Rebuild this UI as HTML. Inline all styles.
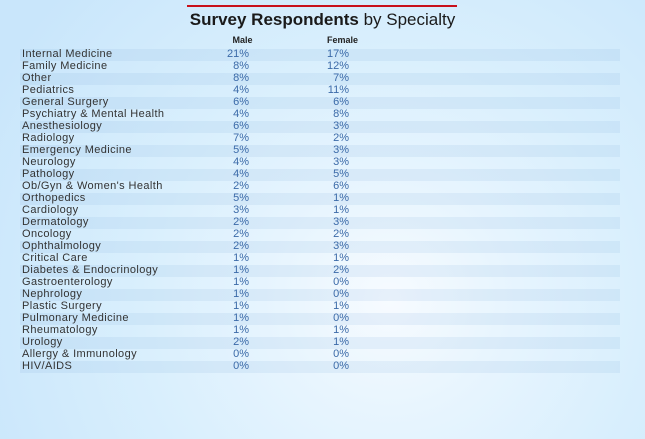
<!DOCTYPE html>
<html><head><meta charset="utf-8">
<style>
html,body{margin:0;padding:0;}
body{width:645px;height:439px;overflow:hidden;position:relative;
background:radial-gradient(circle at 390px 300px,#f7fbff 0px,#e8f5fe 110px,#d9effd 250px,#c9e6fb 450px);
font-family:"Liberation Sans",Arial,sans-serif;}
.red{position:absolute;left:187px;top:5px;width:270px;height:2px;background:#c8101a;}
.title{position:absolute;left:0;width:645px;top:10px;text-align:center;font-size:17px;line-height:20px;color:#1a1a1a;}
.title b{font-weight:bold;}
.hdr{position:absolute;top:35px;font-size:9px;line-height:10px;font-weight:bold;color:#222;text-align:center;}
.row{position:absolute;left:20px;width:600px;height:12px;line-height:12px;font-size:11px;}
.row.s{background:rgba(120,170,220,0.13);}
.row span{position:absolute;top:-1.5px;}
.lab{left:2px;color:#333;letter-spacing:0.4px;white-space:nowrap;}
.m{right:371px;color:#3b6aa8;}
.f{right:271px;color:#3b6aa8;}
</style></head><body>
<div class="red"></div>
<div class="title"><b>Survey Respondents</b> by Specialty</div>
<div class="hdr" style="left:222px;width:41px;">Male</div>
<div class="hdr" style="left:322px;width:41px;">Female</div>

<div class="row s" style="top:49px"><span class="lab">Internal Medicine</span><span class="m">21%</span><span class="f">17%</span></div>
<div class="row" style="top:61px"><span class="lab">Family Medicine</span><span class="m">8%</span><span class="f">12%</span></div>
<div class="row s" style="top:73px"><span class="lab">Other</span><span class="m">8%</span><span class="f">7%</span></div>
<div class="row" style="top:85px"><span class="lab">Pediatrics</span><span class="m">4%</span><span class="f">11%</span></div>
<div class="row s" style="top:97px"><span class="lab">General Surgery</span><span class="m">6%</span><span class="f">6%</span></div>
<div class="row" style="top:109px"><span class="lab">Psychiatry &amp; Mental Health</span><span class="m">4%</span><span class="f">8%</span></div>
<div class="row s" style="top:121px"><span class="lab">Anesthesiology</span><span class="m">6%</span><span class="f">3%</span></div>
<div class="row" style="top:133px"><span class="lab">Radiology</span><span class="m">7%</span><span class="f">2%</span></div>
<div class="row s" style="top:145px"><span class="lab">Emergency Medicine</span><span class="m">5%</span><span class="f">3%</span></div>
<div class="row" style="top:157px"><span class="lab">Neurology</span><span class="m">4%</span><span class="f">3%</span></div>
<div class="row s" style="top:169px"><span class="lab">Pathology</span><span class="m">4%</span><span class="f">5%</span></div>
<div class="row" style="top:181px"><span class="lab">Ob/Gyn &amp; Women's Health</span><span class="m">2%</span><span class="f">6%</span></div>
<div class="row s" style="top:193px"><span class="lab">Orthopedics</span><span class="m">5%</span><span class="f">1%</span></div>
<div class="row" style="top:205px"><span class="lab">Cardiology</span><span class="m">3%</span><span class="f">1%</span></div>
<div class="row s" style="top:217px"><span class="lab">Dermatology</span><span class="m">2%</span><span class="f">3%</span></div>
<div class="row" style="top:229px"><span class="lab">Oncology</span><span class="m">2%</span><span class="f">2%</span></div>
<div class="row s" style="top:241px"><span class="lab">Ophthalmology</span><span class="m">2%</span><span class="f">3%</span></div>
<div class="row" style="top:253px"><span class="lab">Critical Care</span><span class="m">1%</span><span class="f">1%</span></div>
<div class="row s" style="top:265px"><span class="lab">Diabetes &amp; Endocrinology</span><span class="m">1%</span><span class="f">2%</span></div>
<div class="row" style="top:277px"><span class="lab">Gastroenterology</span><span class="m">1%</span><span class="f">0%</span></div>
<div class="row s" style="top:289px"><span class="lab">Nephrology</span><span class="m">1%</span><span class="f">0%</span></div>
<div class="row" style="top:301px"><span class="lab">Plastic Surgery</span><span class="m">1%</span><span class="f">1%</span></div>
<div class="row s" style="top:313px"><span class="lab">Pulmonary Medicine</span><span class="m">1%</span><span class="f">0%</span></div>
<div class="row" style="top:325px"><span class="lab">Rheumatology</span><span class="m">1%</span><span class="f">1%</span></div>
<div class="row s" style="top:337px"><span class="lab">Urology</span><span class="m">2%</span><span class="f">1%</span></div>
<div class="row" style="top:349px"><span class="lab">Allergy &amp; Immunology</span><span class="m">0%</span><span class="f">0%</span></div>
<div class="row s" style="top:361px"><span class="lab">HIV/AIDS</span><span class="m">0%</span><span class="f">0%</span></div>
</body></html>
